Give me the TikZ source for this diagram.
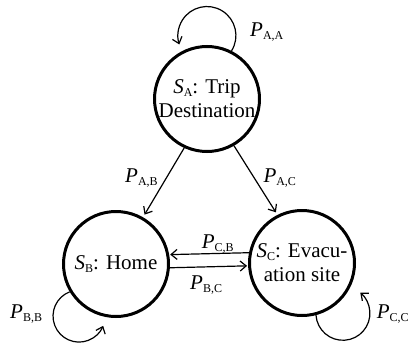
\documentclass[tikz,border=0pt]{standalone}
\usepackage{fontspec}
\setmainfont{Liberation Serif}
\usetikzlibrary{arrows.meta}
\newcommand{\sbl}[2]{\textit{#1}\raisebox{-3pt}{\fontsize{12}{12}\selectfont #2}}
\begin{document}
\begin{tikzpicture}[x=1pt,y=1pt,
  state/.style={circle,draw,line width=3pt,minimum size=105pt,inner sep=0pt,align=center,
    font=\fontsize{21}{24}\selectfont},
  arr/.style={line width=1.2pt,-{Straight Barb[length=6pt,width=10pt]}},
  lab/.style={font=\fontsize{21}{24}\selectfont,inner sep=0pt,anchor=base west}]
\useasboundingbox (0,0) rectangle (411,343);
% states
\node[state] (A) at (207,244) {\sbl{S}{A}: Trip\\Destination};
\node[state] (B) at (116,79) {\sbl{S}{B}: Home};
\node[state] (C) at (302,80) {\sbl{S}{C}: Evacu-\\ation site};
% transitions between states
\draw[arr,shorten >=3pt] (A.245) -- (B.60);
\draw[arr,shorten >=3pt] (A.300) -- (C.117);
\draw[arr,shorten >=1pt] (C.169.3) -- (B.10.7);
\draw[arr,shorten >=1pt] (B.356.8) -- (C.183.2);
% self loops
\draw[arr] (A.63) arc[start angle=-32,end angle=198,radius=29];
\draw[arr] (B.211) arc[start angle=111,end angle=338,radius=26];
\draw[arr] (C.285) arc[start angle=184,end angle=410,radius=27];
% labels
\node[lab] (pAA) at (250,306.3) {\sbl{P}{A,A}};
\node[lab] (pAB) at (125,160.3) {\sbl{P}{A,B}};
\node[lab] (pAC) at (263.3,160.3) {\sbl{P}{A,C}};
\node[lab] (pCB) at (201.7,95) {\sbl{P}{C,B}};
\node[lab] (pBC) at (190,53.7) {\sbl{P}{B,C}};
\node[lab] (pBB) at (10,24.7) {\sbl{P}{B,B}};
\node[lab] (pCC) at (376.7,24.7) {\sbl{P}{C,C}};
\end{tikzpicture}
\end{document}
